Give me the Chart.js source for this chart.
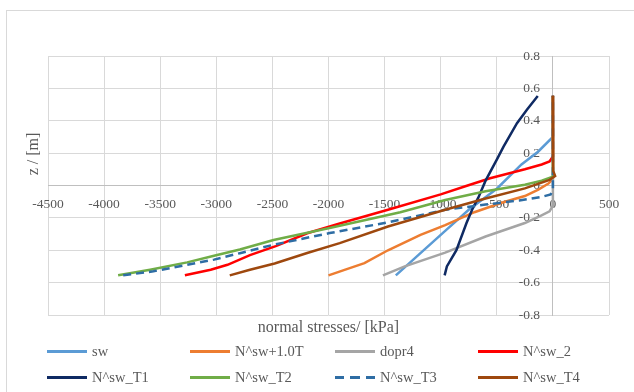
<!DOCTYPE html>
<html lang="en">
<head>
<meta charset="UTF-8">
<title>normal stresses</title>
<style>
  body { margin: 0; background: #fff; width: 634px; height: 392px; overflow: hidden; position: relative; }
  .frame { position: absolute; left: 6px; top: 10px; width: 700px; height: 500px; border-left: 1px solid #d9d9d9; border-top: 1px solid #d9d9d9; }
  canvas { position: absolute; left: 0; top: 0; }
  .item { position: absolute; height: 20px; font: 14.5px "Liberation Serif", serif; color: #595959; white-space: nowrap; }
  .item .mark { position: absolute; left: 0; top: 9px; width: 40px; height: 2.5px; }
  .item span { position: absolute; left: 45px; top: 0; line-height: 20px; }
</style>
</head>
<body>
<div class="frame"></div>
<canvas id="chart" width="634" height="392"></canvas>
<div id="legend"></div>

<script src="https://cdn.jsdelivr.net/npm/chart.js"></script>
<script>
    // series names and colours (Excel order)
    const names = ['sw', 'N^sw+1.0T', 'dopr4', 'N^sw_2', 'N^sw_T1', 'N^sw_T2', 'N^sw_T3', 'N^sw_T4'];
    const colors = ['#5b9bd5', '#ed7d31', '#a5a5a5', '#ff0000', '#0f2a63', '#70ad47', '#2e6da4', '#9e480e'];

    // normal stress [kPa] and depth z [m]
    const xSw = [-1400, -1200, -960, -750, -500, -280, -130, 0, 0];
    const zSw = [-0.555, -0.43, -0.28, -0.15, -0.02, 0.13, 0.21, 0.30, 0.555];

    const xN1 = [-2000, -1850, -1680, -1470, -1180, -960, -700, -450, -250, -130, -40, 0, 0];
    const zN1 = [-0.555, -0.52, -0.48, -0.40, -0.305, -0.245, -0.165, -0.105, -0.065, -0.025, 0.012, 0.04, 0.555];

    const xDopr = [-1515, -1320, -960, -600, -250, -110, -30, -5, 0, 0];
    const zDopr = [-0.555, -0.50, -0.415, -0.315, -0.232, -0.187, -0.16, -0.13, -0.10, 0.555];

    const xN2 = [-3280, -3050, -2900, -2700, -2470, -2190, -1900, -1470, -1000, -760, -560, -250, -100, -30, 0, 0];
    const zN2 = [-0.555, -0.52, -0.49, -0.43, -0.375, -0.295, -0.235, -0.15, -0.055, 0, 0.045, 0.10, 0.13, 0.148, 0.18, 0.555];

    const xT1 = [-965, -945, -860, -770, -720, -665, -600, -500, -440, -320, -230, -135];
    const zT1 = [-0.555, -0.50, -0.40, -0.232, -0.15, -0.075, 0.03, 0.16, 0.24, 0.385, 0.47, 0.553];

    const xT2 = [-3875, -3590, -3260, -3020, -2790, -2490, -1990, -1360, -960, -600, -250, -100, 0, 0];
    const zT2 = [-0.555, -0.52, -0.475, -0.434, -0.395, -0.337, -0.262, -0.165, -0.09, -0.035, 0.005, 0.03, 0.055, 0.555];

    const xT3 = [-3830, -3560, -3260, -3020, -2790, -2490, -1990, -1470, -960, -600, -300, -100, -20, 0, 0];
    const zT3 = [-0.555, -0.53, -0.49, -0.458, -0.418, -0.366, -0.294, -0.228, -0.15, -0.118, -0.092, -0.07, -0.055, -0.027, 0.555];

    const xT4 = [-2880, -2700, -2480, -2190, -1900, -1470, -960, -600, -250, -30, 20, 3, 0];
    const zT4 = [-0.555, -0.52, -0.482, -0.417, -0.356, -0.253, -0.15, -0.08, -0.018, 0.035, 0.058, 0.09, 0.555];

    const xTicks = [-4500, -4000, -3500, -3000, -2500, -2000, -1500, -1000, -500, 0, 500];
    const yTicks = [-0.8, -0.6, -0.4, -0.2, 0, 0.2, 0.4, 0.6, 0.8];

    const xTitle = 'normal stresses/ [kPa]';
    const yTitle = 'z / [m]';

    const allX = [xSw, xN1, xDopr, xN2, xT1, xT2, xT3, xT4];
    const allZ = [zSw, zN1, zDopr, zN2, zT1, zT2, zT3, zT4];

    const font = { family: '"Liberation Serif", serif', size: 13.5 };
    const textColor = '#595959';

    let datasets = names.map((name, i) => ({
        label: name,
        data: allX[i].map((x, k) => ({ x: x, y: allZ[i][k] })),
        borderColor: colors[i],
        backgroundColor: colors[i],
        borderWidth: 2.5,
        borderDash: name === 'N^sw_T3' ? [8, 5] : [],
        showLine: true,
        pointRadius: 0,
        tension: 0,
        order: names.length - i  // later series on top, like Excel
    }));

    // axis titles
    const axisTitles = {
        id: 'axisTitles',
        afterDraw(chart) {
            const ctx = chart.ctx;
            const area = chart.chartArea;
            ctx.save();
            ctx.fillStyle = textColor;
            ctx.font = '16px "Liberation Serif", serif';
            ctx.textAlign = 'center';
            ctx.textBaseline = 'middle';
            ctx.fillText(xTitle, (area.left + area.right) / 2, 328);
            ctx.translate(34, 154);
            ctx.rotate(-Math.PI / 2);
            ctx.fillText(yTitle, 0, 0);
            ctx.restore();
        }
    };

    new Chart(document.getElementById('chart'), {
        type: 'scatter',
        data: { datasets: datasets },
        options: {
            responsive: false,
            animation: false,
            devicePixelRatio: 1,
            layout: { padding: { left: 48, top: 56, right: 25, bottom: 77 } },
            plugins: { legend: { display: false }, tooltip: { enabled: false } },
            scales: {
                x: {
                    type: 'linear',
                    position: { y: 0 },
                    min: -4500, max: 500,
                    afterBuildTicks: s => { s.ticks = xTicks.map(v => ({ value: v })); },
                    afterFit: s => { s.height = 0; },
                    grid: { color: '#d9d9d9', drawTicks: false },
                    border: { color: '#bfbfbf', width: 1 },
                    ticks: { font: font, color: textColor, padding: 11, maxRotation: 0, callback: v => String(v) }
                },
                y: {
                    type: 'linear',
                    position: { x: 0 },
                    min: -0.8, max: 0.8,
                    afterBuildTicks: s => { s.ticks = yTicks.map(v => ({ value: v })); },
                    afterFit: s => { s.width = 0; },
                    grid: { color: '#d9d9d9', drawTicks: false },
                    border: { color: '#bfbfbf', width: 1 },
                    // labels sit right against a positioned axis, so pad them with spaces
                    ticks: { font: font, color: textColor, callback: v => String(Math.round(v * 10) / 10) + '   \u2009' }
                }
            }
        },
        plugins: [axisTitles]
    });

    // legend: 4 columns, 2 rows
    const colX = [47, 190, 335, 478];
    const rowY = [341, 367];
    const legend = document.getElementById('legend');
    names.forEach((name, i) => {
        const item = document.createElement('div');
        item.className = 'item';
        item.style.left = colX[i % 4] + 'px';
        item.style.top = rowY[Math.floor(i / 4)] + 'px';
        const mark = document.createElement('div');
        mark.className = 'mark';
        if (name === 'N^sw_T3') {
            mark.style.background = 'repeating-linear-gradient(to right, ' + colors[i] + ' 0 9px, transparent 9px 15.5px)';
        } else {
            mark.style.background = colors[i];
        }
        const label = document.createElement('span');
        label.textContent = name;
        item.appendChild(mark);
        item.appendChild(label);
        legend.appendChild(item);
    });
</script>
</body>
</html>
